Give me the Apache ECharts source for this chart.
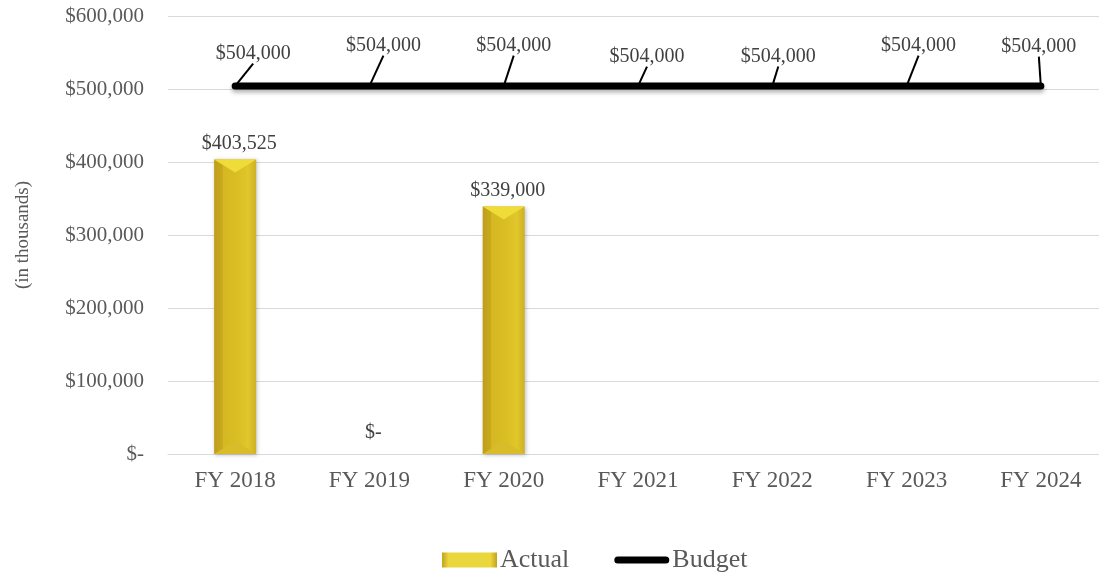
<!DOCTYPE html>
<html>
<head>
<meta charset="utf-8">
<script src="https://cdn.jsdelivr.net/npm/echarts@6/dist/echarts.min.js"></script>
<style>
html,body{margin:0;padding:0;background:#fff;}
#chart{width:1099px;height:575px;}
</style>
</head>
<body>
<div id="chart"></div>
<script>
const categories = ['FY 2018', 'FY 2019', 'FY 2020', 'FY 2021', 'FY 2022', 'FY 2023', 'FY 2024'];
const actual = [403525, 0, 339000, '-', '-', '-', '-'];
const budget = [504000, 504000, 504000, 504000, 504000, 504000, 504000];
const yTicks = [0, 100000, 200000, 300000, 400000, 500000, 600000];

const FONT = 'Liberation Serif';
const money = v => (v === 0 ? '$-' : '$' + Number(v).toLocaleString('en-US'));

// label offsets for the budget data labels (dx, dy)
const budgetLabelShift = [[18, -11], [14, -19], [10, -19], [9, -8], [6, -8], [12, -19], [-2, -18]];

const barGradient = new echarts.graphic.LinearGradient(0, 0, 1, 0, [
  { offset: 0, color: '#BF9E18' },
  { offset: 0.2, color: '#C9AA1E' },
  { offset: 0.21, color: '#D5B822' },
  { offset: 0.55, color: '#DABE24' },
  { offset: 0.78, color: '#E0C52A' },
  { offset: 0.8, color: '#E2C82C' },
  { offset: 1, color: '#CDB024' }
]);

const budgetIcon = 'path://M0,0 L0.001,0 L0,0.001 Z M3.5,4 L51.5,4 A3.5,3.5 0 0 1 51.5,11 L3.5,11 A3.5,3.5 0 0 1 3.5,4 Z M55,15 L54.999,15 L55,14.999 Z';

const chart = echarts.init(document.getElementById('chart'), null, { renderer: 'canvas' });
chart.setOption({
  animation: false,
  backgroundColor: '#ffffff',
  textStyle: { fontFamily: FONT },
  grid: { left: 168, width: 940, top: 16, height: 438, containLabel: false, outerBoundsMode: 'none' },
  xAxis: {
    type: 'category',
    data: categories,
    axisLine: { lineStyle: { color: '#D9D9D9', width: 1 } },
    axisTick: { show: false },
    axisLabel: { color: '#595959', fontSize: 23, fontFamily: FONT, margin: 15 }
  },
  yAxis: {
    type: 'value',
    min: 0,
    max: 600000,
    interval: 100000,
    name: '(in thousands)',
    nameLocation: 'middle',
    nameRotate: 90,
    nameGap: 135,
    nameTextStyle: { color: '#595959', fontSize: 19, fontFamily: FONT },
    axisLine: { show: false },
    axisTick: { show: false },
    splitLine: { lineStyle: { color: '#D9D9D9', width: 1 } },
    axisLabel: { color: '#595959', fontSize: 21, fontFamily: FONT, margin: 24, formatter: money }
  },
  legend: {
    left: 442,
    top: 547,
    padding: 0,
    itemWidth: 55,
    itemHeight: 15,
    itemGap: 45,
    textStyle: { color: '#595959', fontSize: 26, fontFamily: FONT, padding: [0, 0, 0, -2] },
    data: [
      {
        name: 'Actual',
        icon: 'rect',
        itemStyle: {
          color: new echarts.graphic.LinearGradient(0, 0, 1, 0, [
            { offset: 0, color: '#C2A21C' },
            { offset: 0.12, color: '#EAD73C' },
            { offset: 0.88, color: '#EAD73C' },
            { offset: 1, color: '#C2A21C' }
          ])
        }
      },
      { name: 'Budget', icon: budgetIcon, itemStyle: { color: '#000000' } }
    ]
  },
  series: [
    {
      name: 'Actual',
      type: 'bar',
      barWidth: 42,
      data: actual.map(v => (v === 0 ? { value: 0, label: { distance: 11 } } : v)),
      itemStyle: {
        color: barGradient,
        shadowBlur: 4,
        shadowColor: 'rgba(0,0,0,0.25)',
        shadowOffsetX: 1,
        shadowOffsetY: 1
      },
      label: {
        show: true,
        position: 'top',
        distance: 6,
        offset: [4, 0],
        color: '#404040',
        fontSize: 20,
        fontFamily: FONT,
        formatter: p => money(p.value)
      },
      z: 2
    },
    {
      name: 'Actual',
      type: 'pictorialBar',
      data: actual.map(v => (v > 0 ? v : '-')),
      symbol: 'path://M0,0 L10,0 L5,3 Z',
      symbolSize: [42, 13],
      symbolPosition: 'end',
      itemStyle: { color: '#EFDC38' },
      z: 3,
      silent: true
    },
    {
      name: 'Actual',
      type: 'pictorialBar',
      data: actual.map(v => (v > 0 ? v : '-')),
      symbol: 'path://M5,0 L10,3 L0,3 Z',
      symbolSize: [42, 13],
      symbolPosition: 'start',
      itemStyle: { color: '#D8BC2A' },
      z: 3,
      silent: true
    },
    {
      name: 'Budget',
      type: 'line',
      data: budget,
      symbol: 'circle',
      symbolSize: 1,
      showSymbol: true,
      itemStyle: { color: '#000000' },
      lineStyle: {
        color: '#000000',
        width: 7,
        cap: 'round',
        shadowColor: 'rgba(0,0,0,0.3)',
        shadowBlur: 4,
        shadowOffsetY: 3
      },
      label: {
        show: true,
        position: 'top',
        distance: 5,
        padding: [0, 0, 6, 0],
        color: '#404040',
        fontSize: 20,
        fontFamily: FONT,
        formatter: p => money(p.value)
      },
      labelLine: {
        show: true,
        lineStyle: { color: '#000000', width: 2 }
      },
      labelLayout: p => ({ dx: budgetLabelShift[p.dataIndex][0], dy: budgetLabelShift[p.dataIndex][1] }),
      z: 4
    }
  ]
});
</script>
</body>
</html>
